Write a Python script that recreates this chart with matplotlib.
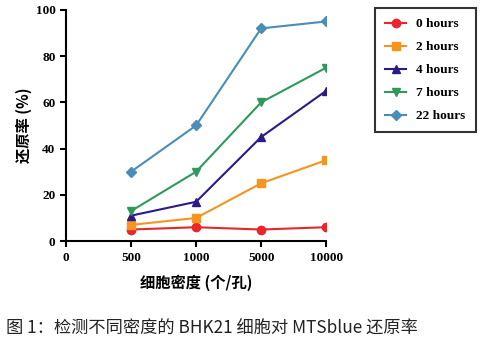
import matplotlib
matplotlib.use("Agg")
import matplotlib.pyplot as plt

densities = ["0", "500", "1000", "5000", "10000"]
labels = ["0 hours", "2 hours", "4 hours", "7 hours", "22 hours"]
h0 = [5, 6, 5, 6]
h2 = [7, 10, 25, 35]
h4 = [11, 17, 45, 65]
h7 = [13, 30, 60, 75]
h22 = [30, 50, 92, 95]
series = [h0, h2, h4, h7, h22]
colors = ["#e8262b", "#f7941d", "#2e1a87", "#2e9a5a", "#4a8db7"]
markers = ["o", "s", "^", "v", "D"]

serif = ["Liberation Serif", "DejaVu Serif"]
cjk = ["Noto Sans CJK SC", "DejaVu Sans"]

fig = plt.figure(figsize=(4.89, 3.41), dpi=100)
ax = fig.add_axes([0.135, 0.293, 0.532, 0.678])

xs = [1, 2, 3, 4]
for vals, lab, c, m in zip(series, labels, colors, markers):
    ax.plot(xs, vals, color=c, marker=m, lw=1.5, ms=6 if m != "D" else 5,
            label=lab)

ax.set_xlim(0, 4)
ax.set_ylim(0, 100)
ax.set_xticks(range(5))
ax.set_xticklabels(densities)
ax.set_yticks(range(0, 101, 20))
for s in ["top", "right"]:
    ax.spines[s].set_visible(False)
for s in ["left", "bottom"]:
    ax.spines[s].set_linewidth(1.5)
ax.tick_params(width=1.5, length=4, direction="out")
for t in ax.get_xticklabels() + ax.get_yticklabels():
    t.set_fontfamily(serif)
    t.set_fontweight("bold")
    t.set_fontsize(9.5)

ax.set_ylabel("还原率 (%)", family=cjk, fontsize=11, fontweight="bold", labelpad=3)
ax.set_xlabel("细胞密度 (个/孔)", family=cjk, fontsize=11, fontweight="bold", labelpad=8)

leg = fig.legend(loc="upper left", bbox_to_anchor=(0.767, 0.977), frameon=True,
                 fancybox=False, edgecolor="black", handlelength=1.6,
                 borderpad=0.75, labelspacing=0.8, handletextpad=0.75,
                 borderaxespad=0,
                 prop={"family": serif, "weight": "bold", "size": 9.6})
leg.get_frame().set_linewidth(1.5)

fig.text(0.012, 0.02, "图 1：检测不同密度的 BHK21 细胞对 MTSblue 还原率",
         family=cjk, fontsize=12.4, color="#222222")

fig.savefig("out.png", dpi=100)
